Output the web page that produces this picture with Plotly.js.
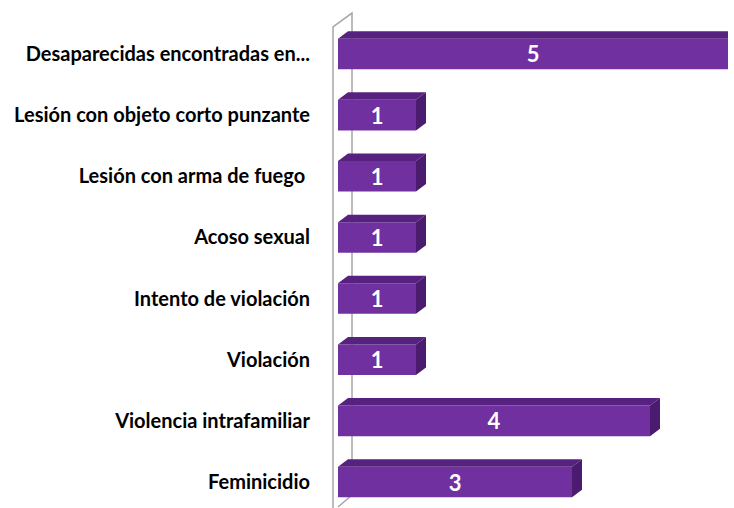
<!DOCTYPE html>
<html><head><meta charset="utf-8">
<script src="https://cdn.plot.ly/plotly-3.0.1.min.js"></script>
<style>html,body{margin:0;padding:0;background:#fff}</style>
</head><body><div id="chart" style="width:734px;height:508px"></div>
<script>
const categories = ["Feminicidio", "Violencia intrafamiliar", "Violación", "Intento de violación", "Acoso sexual", "Lesión con arma de fuego\u00A0", "Lesión con objeto corto punzante", "Desaparecidas encontradas en..."];
const values = [3, 4, 1, 1, 1, 1, 1, 5];

const W = 734, H = 508;
const mL = 338, mR = 6, mT = 20, mB = 0;
const xRange = [0, 5];
const yRange = [-0.425, 7.556];
const pxPerX = (W - mL - mR) / (xRange[1] - xRange[0]);
const pxPerY = (H - mT - mB) / (yRange[1] - yRange[0]);
const barW = 0.5;
const dx = 10 / pxPerX, dy = 7.5 / pxPerY;
const front = '#7030A0', topC = '#57227F', sideC = '#4A1B6E';

const ypos = categories.map((_, i) => i);
const traces = [{
  type: 'bar', orientation: 'h', x: values, y: ypos, width: barW,
  marker: {color: front, line: {width: 0}},
  text: values.map(String), textposition: 'inside', insidetextanchor: 'middle',
  textangle: 0, constraintext: 'none',
  textfont: {color: '#fff', size: 22, family: 'Lato, sans-serif', weight: 'bold'},
  hoverinfo: 'none', cliponaxis: false
}];
values.forEach((v, i) => {
  const t = i + barW / 2, b = i - barW / 2;
  traces.push({type: 'scatter', mode: 'lines', fill: 'toself', fillcolor: topC, line: {width: 0},
    x: [0, v, v + dx, dx, 0], y: [t, t, t + dy, t + dy, t], hoverinfo: 'none', showlegend: false, cliponaxis: false});
  traces.push({type: 'scatter', mode: 'lines', fill: 'toself', fillcolor: sideC, line: {width: 0},
    x: [v, v + dx, v + dx, v, v], y: [b, b + dy, t + dy, t, b], hoverinfo: 'none', showlegend: false, cliponaxis: false});
});

const px2paperX = p => (p - mL) / (W - mL - mR);
const px2paperY = p => (H - mB - p) / (H - mT - mB);
const wallPts = [[333, 508], [333, 27], [352, 13], [352, 495], [338, 507]];
const wallPath = wallPts.map((p, k) => (k ? 'L' : 'M') + px2paperX(p[0]).toFixed(4) + ',' + px2paperY(p[1]).toFixed(4)).join(' ');

const layout = {
  width: W, height: H, margin: {l: mL, r: mR, t: mT, b: mB},
  paper_bgcolor: '#fff', plot_bgcolor: 'rgba(0,0,0,0)', showlegend: false,
  xaxis: {range: xRange, visible: false, fixedrange: true},
  yaxis: {range: yRange, tickvals: ypos, ticktext: categories, showgrid: false, zeroline: false,
    showline: false, ticks: 'outside', ticklen: 23, tickcolor: 'rgba(0,0,0,0)',
    tickfont: {family: 'Lato, sans-serif', size: 20, color: '#000', weight: 'bold'}},
  shapes: [{type: 'path', xref: 'paper', yref: 'paper', path: wallPath, line: {color: '#A6A6A6', width: 1.5}, layer: 'below'}]
};
Plotly.newPlot('chart', traces, layout, {displayModeBar: false, staticPlot: true});
</script></body></html>
